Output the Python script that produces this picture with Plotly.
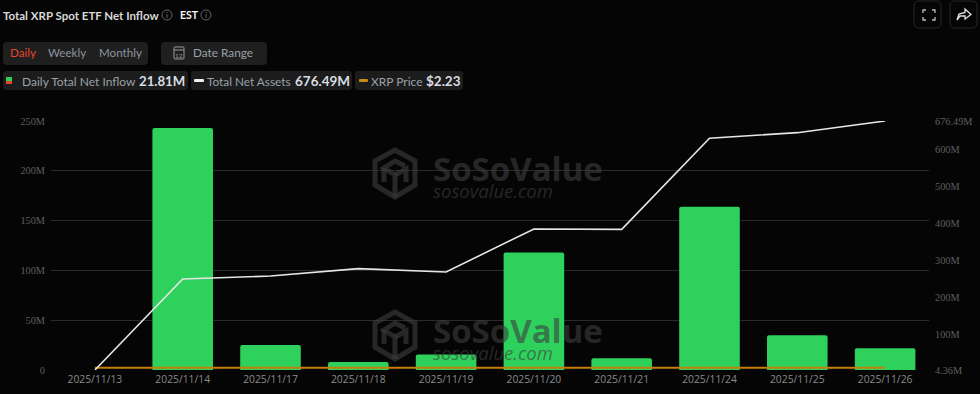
import plotly.graph_objects as go

dates = ["2025/11/13","2025/11/14","2025/11/17","2025/11/18","2025/11/19","2025/11/20","2025/11/21","2025/11/24","2025/11/25","2025/11/26"]
net_inflow = [0, 243, 25, 8, 15.5, 118, 11.8, 164, 35, 21.81]
net_assets = [4.36, 250, 258, 278, 269, 385, 384, 630, 645, 676.49]
xrp_price = [2.38, 2.27, 2.15, 2.2, 2.1, 2.0, 1.95, 2.25, 2.2, 2.23]
left_ticks = [0, 50, 100, 150, 200, 250]
left_labels = ["0", "50M", "100M", "150M", "200M", "250M"]
right_ticks = [4.36, 100, 200, 300, 400, 500, 600, 676.49]
right_labels = ["4.36M", "100M", "200M", "300M", "400M", "500M", "600M", "676.49M"]

L, R, T, B = 51, 929, 121, 370
BG = "#050505"
X = lambda x: (x - L) / (R - L)
Y = lambda y: (B - y) / (B - T)
shapes, annos = [], []

def path(points, close=False):
    s = "M" + " L".join(f"{X(a):.5f},{Y(b):.5f}" for a, b in points)
    return s + (" Z" if close else "")

def rrect(x0, y0, x1, y1, r, fill, line=None):
    d = (f"M{X(x0+r):.5f},{Y(y0):.5f} L{X(x1-r):.5f},{Y(y0):.5f} Q{X(x1):.5f},{Y(y0):.5f} {X(x1):.5f},{Y(y0+r):.5f} "
         f"L{X(x1):.5f},{Y(y1-r):.5f} Q{X(x1):.5f},{Y(y1):.5f} {X(x1-r):.5f},{Y(y1):.5f} "
         f"L{X(x0+r):.5f},{Y(y1):.5f} Q{X(x0):.5f},{Y(y1):.5f} {X(x0):.5f},{Y(y1-r):.5f} "
         f"L{X(x0):.5f},{Y(y0+r):.5f} Q{X(x0):.5f},{Y(y0):.5f} {X(x0+r):.5f},{Y(y0):.5f} Z")
    shapes.append(dict(type="path", xref="paper", yref="paper", path=d, fillcolor=fill,
                       line=dict(color=line or fill, width=1 if line else 0), layer="above"))

def stroke(points, color, width, close=False, fill=None):
    shapes.append(dict(type="path", xref="paper", yref="paper", path=path(points, close),
                       fillcolor=fill or "rgba(0,0,0,0)", line=dict(color=color, width=width), layer="above"))

def text(x, y, s, size, color, family="Lato", bold=False, italic=False, anchor="left"):
    if bold:
        s = f"<b>{s}</b>"
    if italic:
        s = f"<i>{s}</i>"
    annos.append(dict(xref="paper", yref="paper", x=X(x), y=Y(y), text=s, showarrow=False,
                      xanchor=anchor, yanchor="middle", xshift=-1.5 if anchor == "left" else 0, borderpad=0,
                      font=dict(size=size, color=color, family=family)))

def circle(cx, cy, r, color):
    shapes.append(dict(type="circle", xref="paper", yref="paper", x0=X(cx-r), x1=X(cx+r),
                       y0=Y(cy+r), y1=Y(cy-r), line=dict(color=color, width=1), layer="above"))

# header
text(3, 15, "Total XRP Spot ETF Net Inflow", 11.5, "#d8d8d8", bold=True)
circle(167, 15, 5, "#666666"); text(167, 15, "i", 8, "#777777", anchor="center")
text(180, 14.5, "EST", 10.5, "#f4f4f4", bold=True)
circle(206, 15, 5, "#666666"); text(206, 15, "i", 8, "#777777", anchor="center")

# period buttons
rrect(3, 42, 148, 65, 4, "#1f1f1f")
text(10, 53, "Daily", 11.6, "#e5452b")
text(48, 53, "Weekly", 11.6, "#8b949e")
text(99, 53, "Monthly", 11.6, "#8b949e")
rrect(161, 42, 267, 65, 4, "#1f1f1f")
rrect(174, 47, 184, 59, 1, "#1f1f1f", "#9a9a9a")
stroke([(174, 50), (184, 50)], "#9a9a9a", 1)
text(179, 55, "12", 6.5, "#9a9a9a", anchor="center")
text(193, 53, "Date Range", 11.8, "#9aa1a8")

# legend chips
rrect(3, 71, 188, 90, 3, "#1c1c1c")
rrect(191, 71, 352, 90, 3, "#1c1c1c")
rrect(355, 71, 463, 90, 3, "#1c1c1c")
stroke([(6, 77), (12, 77), (12, 81), (6, 81)], "#2ed15c", 0, True, "#2ed15c")
stroke([(6, 81), (12, 81), (12, 84), (6, 84)], "#e5452b", 0, True, "#e5452b")
text(22, 81, "Daily Total Net Inflow", 12, "#9aa1a8")
text(139, 81, "21.81M", 13.2, "#d8dde2", bold=True)
rrect(194, 79, 204, 82, 1, "#f0f0f0")
text(207, 81, "Total Net Assets", 11.8, "#9aa1a8")
text(295, 81, "676.49M", 13.5, "#d8dde2", bold=True)
rrect(359, 79, 368, 82, 1, "#c98a10")
text(371, 81, "XRP Price", 12, "#9aa1a8")
text(426, 81, "$2.23", 13.5, "#d8dde2", bold=True)

# top-right buttons
rrect(914, 1, 941, 28, 5, BG, "#262626")
rrect(950, 1, 977, 28, 5, BG, "#262626")
for pts in ([(923, 13), (923, 10), (926, 10)], [(932, 10), (935, 10), (935, 13)],
            [(935, 17), (935, 20), (932, 20)], [(926, 20), (923, 20), (923, 17)]):
    stroke(pts, "#bbbbbb", 1.3)
stroke([(957, 20), (959, 14), (965, 12.5), (965, 9), (971, 14.5), (965, 19), (965, 16), (960, 16)],
       "#dddddd", 1.3, True)

# watermarks
WM = "rgba(62,62,62,0.62)"
for cy in (173, 335):
    stroke([(395, cy-23), (415, cy-12), (415, cy+12), (395, cy+24), (375, cy+12), (375, cy-12)], WM, 5, True)
    stroke([(395, cy+24), (395, cy+2), (384, cy-5), (395, cy-12), (405, cy-7)], WM, 5)
    stroke([(395, cy+2), (406, cy-4), (406, cy+9)], WM, 5)
    stroke([(384, cy-5), (384, cy+9)], WM, 5)
    annos.append(dict(xref="paper", yref="paper", x=X(431.5), y=Y(cy+1), showarrow=False, xanchor="left",
                      yanchor="middle", align="left", borderpad=0,
                      font=dict(size=13, color=WM, family="Open Sans"),
                      text='<span style="font-size:33px"><b>SoSoValue</b></span><br>'
                           '<span style="font-size:18.5px"><i>sosovalue.com</i></span>'))

fig = go.Figure()
fig.add_bar(x=dates, y=net_inflow, marker=dict(color="#2ed15c", cornerradius=2, line_width=0), name="Daily Total Net Inflow")
fig.add_scatter(x=dates, y=net_assets, yaxis="y2", mode="lines", line=dict(color="#e6e6e6", width=1.6), name="Total Net Assets")
fig.add_scatter(x=dates, y=xrp_price, mode="lines", line=dict(color="#c47f0c", width=2), name="XRP Price")

tick_font = dict(family="Liberation Serif", size=10.3, color="#5f5f5f")
fig.update_layout(
    width=980, height=394, autosize=False, showlegend=False, bargap=0.31,
    paper_bgcolor=BG, plot_bgcolor=BG,
    margin=dict(l=L, r=980-R, t=T, b=394-B, pad=0, autoexpand=False),
    xaxis=dict(type="category", categoryorder="array", categoryarray=dates, showgrid=False, zeroline=False, automargin=False,
               ticks="", showline=False, tickfont=dict(family="Open Sans", size=10.3, color="#8a8a8a"), ticklabelstandoff=2),
    yaxis=dict(range=[0, 250], tickvals=left_ticks, ticktext=left_labels, tickfont=tick_font, ticks="", automargin=False,
               gridcolor="#2a2a2a", gridwidth=1, zeroline=False, showline=False, ticklabelstandoff=5),
    yaxis2=dict(range=[4.36, 676.49], overlaying="y", side="right", tickvals=right_ticks, ticktext=right_labels, automargin=False,
                tickfont=tick_font, ticks="", showgrid=False, zeroline=False, showline=False, ticklabelstandoff=5),
    shapes=shapes, annotations=annos,
)
fig.write_html("out.html", config={"displayModeBar": False},
               post_script="document.body.style.margin='0';document.body.style.background='#050505';")
